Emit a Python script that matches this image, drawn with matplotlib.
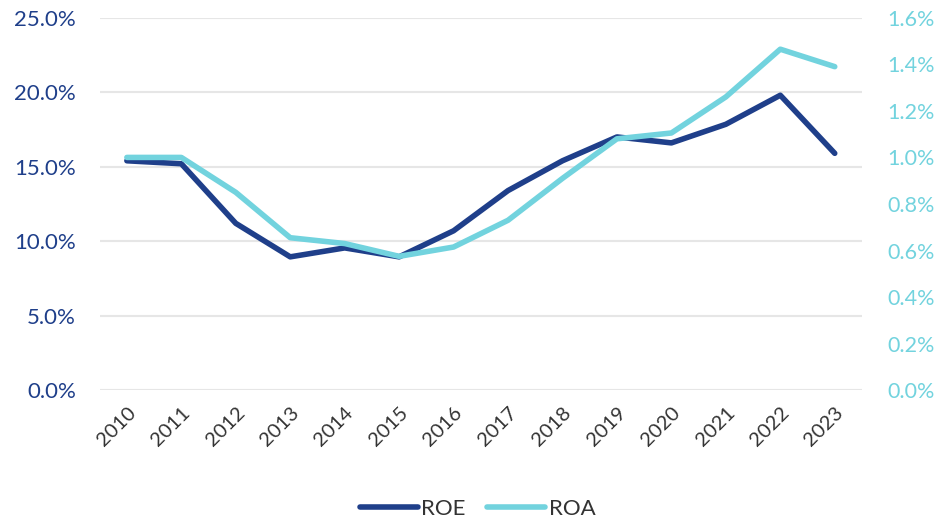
import matplotlib
matplotlib.use("Agg")
import matplotlib.pyplot as plt
from matplotlib.ticker import FuncFormatter

plt.rcParams["font.family"] = ["Lato", "DejaVu Sans"]

# Annual ROE (left axis, %) and ROA (right axis, %)
years = [2010, 2011, 2012, 2013, 2014, 2015, 2016, 2017, 2018, 2019, 2020, 2021, 2022, 2023]
roe = [15.4, 15.2, 11.2, 8.95, 9.55, 8.95, 10.7, 13.4, 15.4, 17.0, 16.6, 17.85, 19.8, 15.9]
roa = [1.00, 1.00, 0.85, 0.655, 0.63, 0.575, 0.615, 0.73, 0.91, 1.08, 1.105, 1.26, 1.465, 1.39]

navy = "#1F3F8A"
cyan = "#72D3DE"

fig = plt.figure(figsize=(9.4, 5.23), dpi=100)
ax = fig.add_axes([0.106, 0.254, 0.811, 0.712])
ax2 = ax.twinx()

x = range(len(years))
l1, = ax.plot(x, roe, color=navy, lw=4, solid_capstyle="round", solid_joinstyle="round", label="ROE", zorder=3)
l2, = ax2.plot(x, roa, color=cyan, lw=4, solid_capstyle="round", solid_joinstyle="round", label="ROA", zorder=3)

ax.set_ylim(0, 25)
ax2.set_ylim(0, 1.6)
ax.set_xlim(-0.5, len(years) - 0.5)
ax.set_yticks([0, 5, 10, 15, 20, 25])
ax2.set_yticks([0, 0.2, 0.4, 0.6, 0.8, 1.0, 1.2, 1.4, 1.6])
ax.yaxis.set_major_formatter(FuncFormatter(lambda v, p: f"{v:.1f}%"))
ax2.yaxis.set_major_formatter(FuncFormatter(lambda v, p: f"{v:.1f}%"))

ax.set_xticks(list(x))
ax.set_xticklabels([str(y) for y in years], rotation=45, ha="right", rotation_mode="anchor")

ax.grid(axis="y", color="#E6E6E6", lw=1.5)
ax.set_axisbelow(True)
for a in (ax, ax2):
    for s in a.spines.values():
        s.set_visible(False)
    a.tick_params(length=0)

ax.tick_params(axis="y", labelsize=16, colors=navy, pad=17)
ax2.tick_params(axis="y", labelsize=15.5, colors=cyan, pad=18)
ax.tick_params(axis="x", labelsize=14.5, colors="#333333", pad=10)

fig.legend(handles=[l1, l2], loc="lower center", bbox_to_anchor=(0.508, -0.03), ncol=2,
           frameon=False, fontsize=16, handlelength=2.6, columnspacing=1.0, handletextpad=0.15,
           labelcolor="#333333")

fig.savefig("out.png", dpi=100)
